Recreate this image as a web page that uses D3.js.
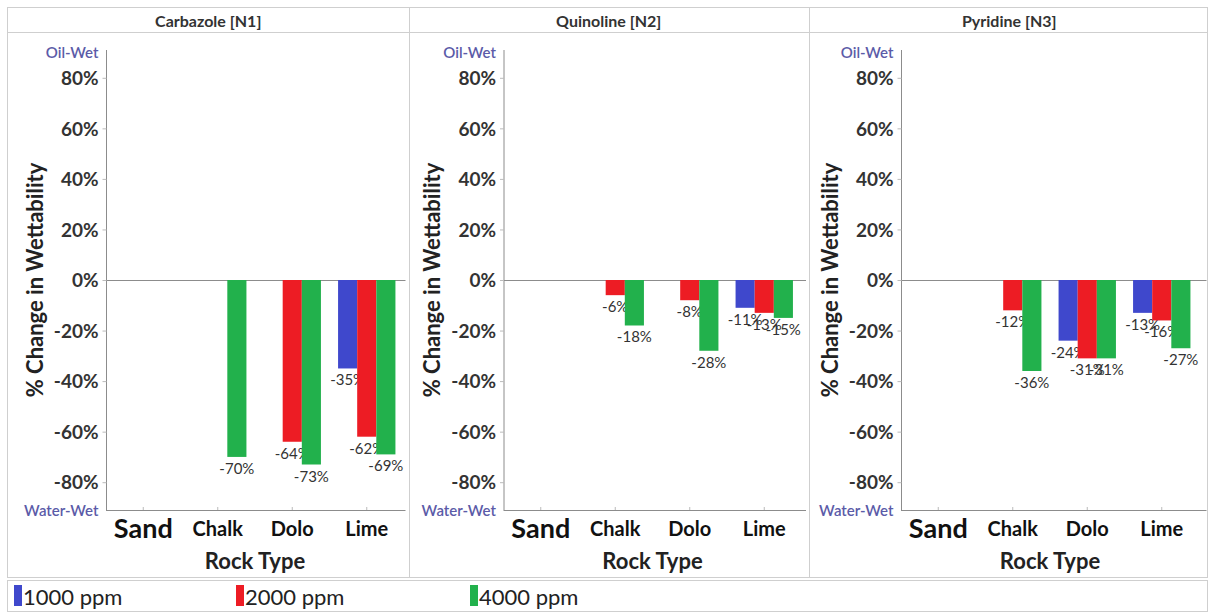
<!DOCTYPE html>
<html>
<head>
<meta charset="utf-8">
<script src="https://cdn.jsdelivr.net/npm/d3@7"></script>
<style>
  body { margin: 0; background: #fff; }
  svg { display: block; }
</style>
</head>
<body>
<svg id="chart" width="1209" height="613"></svg>
<script>
// Panels, categories and series
const compounds = ["Carbazole [N1]", "Quinoline [N2]", "Pyridine [N3]"];
const rockTypes = ["Sand", "Chalk", "Dolo", "Lime"];
const concentrations = ["1000 ppm", "2000 ppm", "4000 ppm"];
const seriesColors = ["#3f48cc", "#ed1c24", "#22b14c"];

// % change in wettability per rock type (null = not measured)
const carbazole1000 = [null, null, null, -35];
const carbazole2000 = [null, null, -64, -62];
const carbazole4000 = [null, -70, -73, -69];

const quinoline1000 = [null, null, null, -11];
const quinoline2000 = [null, -6, -8, -13];
const quinoline4000 = [null, -18, -28, -15];

const pyridine1000 = [null, null, -24, -13];
const pyridine2000 = [null, -12, -31, -16];
const pyridine4000 = [null, -36, -31, -27];

// Y axis
const yTicks = [80, 60, 40, 20, 0, -20, -40, -60, -80];
const yLimit = 91;
const yEndLabels = ["Oil-Wet", "Water-Wet"];

const panelSeries = [
  [carbazole1000, carbazole2000, carbazole4000],
  [quinoline1000, quinoline2000, quinoline4000],
  [pyridine1000, pyridine2000, pyridine4000]
];

const frameL = 7, frameR = 1208, frameT = 7, headerB = 32, frameB = 577;
const panelW = 400.5;
const axisStep = 397.5, firstAxis = 106;
const plotTop = 50, plotBottom = 510;
const bandW = 74.5;

const svg = d3.select("#chart");
const gridColor = "#cfcfcf";
const axisColor = "#8c8c8c";

const y = d3.scaleLinear().domain([-yLimit, yLimit]).range([plotBottom, plotTop]);

// outer frame and header row
svg.append("rect").attr("x", frameL + 0.5).attr("y", frameT + 0.5)
  .attr("width", frameR - frameL - 1).attr("height", frameB - frameT)
  .attr("fill", "none").attr("stroke", gridColor);
svg.append("line").attr("x1", frameL).attr("x2", frameR)
  .attr("y1", headerB + 0.5).attr("y2", headerB + 0.5)
  .attr("stroke", gridColor);

compounds.forEach((name, i) => {
  const pLeft = frameL + 1 + i * panelW;
  const pRight = pLeft + panelW;
  if (i > 0) {
    svg.append("line").attr("x1", Math.round(pLeft) + 0.5).attr("x2", Math.round(pLeft) + 0.5)
      .attr("y1", frameT).attr("y2", frameB).attr("stroke", gridColor);
  }
  svg.append("text")
    .attr("x", (pLeft + pRight) / 2).attr("y", (frameT + headerB) / 2 + 1)
    .attr("text-anchor", "middle").attr("dominant-baseline", "central")
    .attr("font-family", "Lato, sans-serif").attr("font-weight", 700)
    .attr("font-size", 16).attr("fill", "#333")
    .text(name);

  const ax = firstAxis + i * axisStep;
  const x = d3.scaleBand().domain(rockTypes).range([ax, ax + bandW * rockTypes.length]);
  const groupW = x.bandwidth() * 0.77;
  const inner = d3.scaleBand().domain(d3.range(concentrations.length)).range([0, groupW]);
  const groupOff = (x.bandwidth() - groupW) / 2;

  const g = svg.append("g");

  // zero line
  g.append("line").attr("x1", ax).attr("x2", pRight - 3)
    .attr("y1", Math.round(y(0)) + 0.5).attr("y2", Math.round(y(0)) + 0.5)
    .attr("stroke", axisColor);

  // x axis line
  g.append("line").attr("x1", ax).attr("x2", pRight - 3)
    .attr("y1", plotBottom + 0.5).attr("y2", plotBottom + 0.5)
    .attr("stroke", axisColor);

  // y axis with wettability end labels
  const yAxis = d3.axisLeft(y)
    .tickValues([yLimit, ...yTicks, -yLimit])
    .tickFormat(d => d === yLimit ? yEndLabels[0] : d === -yLimit ? yEndLabels[1] : d + "%")
    .tickSize(4).tickPadding(4);
  const ya = g.append("g").attr("transform", `translate(${ax + 0.5},0)`).call(yAxis);
  ya.select(".domain").attr("stroke", axisColor).attr("d", `M0,${plotTop}V${plotBottom}`);
  ya.selectAll(".tick line").attr("stroke", "#bbb");
  ya.selectAll(".tick text")
    .attr("font-family", "Lato, sans-serif")
    .attr("font-weight", d => Math.abs(d) === yLimit ? 600 : 700)
    .attr("font-size", d => Math.abs(d) === yLimit ? 15 : 19)
    .attr("fill", d => Math.abs(d) === yLimit ? "#5b5ba8" : "#333")
    .attr("dy", d => d === yLimit ? "0.5em" : "0.35em");
  ya.selectAll(".tick").filter(d => Math.abs(d) === yLimit).select("line").remove();

  // x axis labels and ticks
  const xAxis = d3.axisBottom(x).tickSize(-3).tickPadding(0);
  const xa = g.append("g").attr("transform", `translate(0,${plotBottom})`).call(xAxis);
  xa.select(".domain").remove();
  xa.selectAll(".tick line").attr("stroke", "#bbb");
  xa.selectAll(".tick text")
    .attr("font-family", "Lato, sans-serif").attr("font-weight", 700)
    .attr("font-size", d => d === "Sand" ? 27 : 20)
    .attr("fill", "#111")
    .attr("y", 19).attr("dy", "0.35em");

  // axis titles
  g.append("text")
    .attr("transform", `translate(${ax - 72},${y(0)}) rotate(-90)`)
    .attr("text-anchor", "middle").attr("dominant-baseline", "central")
    .attr("font-family", "Lato, sans-serif").attr("font-weight", 700)
    .attr("font-size", 22).attr("fill", "#222")
    .text("% Change in Wettability");
  g.append("text")
    .attr("x", ax + bandW * 2).attr("y", 560)
    .attr("text-anchor", "middle").attr("dominant-baseline", "central")
    .attr("font-family", "Lato, sans-serif").attr("font-weight", 700)
    .attr("font-size", 22).attr("fill", "#222")
    .text("Rock Type");

  // bars with value labels, one series at a time so later bars sit over earlier labels
  panelSeries[i].forEach((vals, s) => {
    const pts = rockTypes.map((r, k) => ({ r, v: vals[k] })).filter(d => d.v !== null);
    const sg = g.append("g");
    sg.selectAll("rect").data(pts).join("rect")
      .attr("x", d => x(d.r) + groupOff + inner(s))
      .attr("width", inner.bandwidth())
      .attr("y", d => Math.min(y(0), y(d.v)))
      .attr("height", d => Math.abs(y(d.v) - y(0)))
      .attr("fill", seriesColors[s]);
    sg.selectAll("text").data(pts).join("text")
      .attr("x", d => x(d.r) + groupOff + inner(s) + inner.bandwidth() / 2)
      .attr("y", d => y(d.v) + 17)
      .attr("text-anchor", "middle")
      .attr("font-family", "Lato, sans-serif").attr("font-size", 15)
      .attr("fill", "#333")
      .text(d => d.v + "%");
  });
});

// legend
svg.append("rect").attr("x", frameL + 0.5).attr("y", 580.5)
  .attr("width", frameR - frameL - 1).attr("height", 31)
  .attr("fill", "none").attr("stroke", gridColor);
const legendX = [14, 236, 470];
concentrations.forEach((c, s) => {
  svg.append("rect").attr("x", legendX[s]).attr("y", 585).attr("width", 8).attr("height", 21)
    .attr("fill", seriesColors[s]);
  svg.append("text").attr("x", legendX[s] + 9).attr("y", 596)
    .attr("dominant-baseline", "central")
    .attr("font-family", "Lato, sans-serif").attr("font-size", 22).attr("fill", "#222")
    .text(c);
});
</script>
</body>
</html>
